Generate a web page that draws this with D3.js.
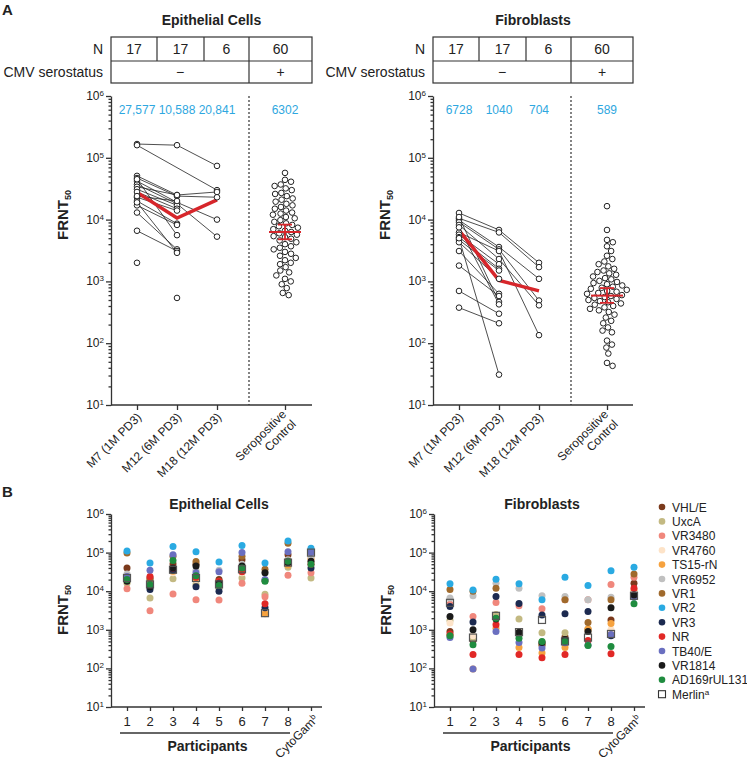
<!DOCTYPE html>
<html>
<head>
<style>
  body { margin: 0; background: #fff; font-family: "Liberation Sans", Arial, sans-serif; }
  text { fill: #222; }
  .axis path, .axis line { stroke: #333; stroke-width: 1.3; }
  .axis text { display: none; }
  .grid line { stroke: #333; stroke-width: 1.2; }
  .gmt { fill: #2ea7e0; font-size: 12px; text-anchor: middle; }
</style>
</head>
<body>
<script src="https://d3js.org/d3.v7.min.js"></script>
<script>
// ---------- panel A data ----------
const timepoints = ["M7 (1M PD3)", "M12 (6M PD3)", "M18 (12M PD3)"];
const controlLabel = ["Seropositive", "Control"];
const nCounts = [17, 17, 6, 60];
const serostatus = ["\u2212", "+"];
const yTicks = [10, 100, 1000, 10000, 100000, 1000000];

// epithelial: one entry per participant, null = no sample
const epiM7  = [167000, 160000, 51000, 47000, 42000, 37000, 34000, 31000, 28000, 23000, 20000, 17000, 13000, 6600, 2000, null, 45000, 19000, 24000];
const epiM12 = [160000, null, 25000, 24000, 19000, 18000, 25000, 17000, 15000, 14000, 8600, 8200, 3300, 3100, null, 540, 5600, 2900, 20000];
const epiM18 = [74000, 30000, 28000, 23000, 10000, 5300, null, null, null, null, null, null, null, null, null, null, null, null, null];
const epiControl = [57000, 44000, 41000, 37000, 35000, 32000, 30000, 27000, 26000, 24000,
  22000, 21000, 19500, 18000, 17000, 16000, 15000, 14000, 13000, 12500,
  12000, 11000, 10500, 9800, 9200, 8700, 8200, 7800, 7400, 7000,
  6600, 6300, 6000, 5700, 5400, 5200, 4900, 4600, 4300, 4000,
  3700, 3500, 3300, 3000, 2800, 2600, 2400, 2200, 2000, 1900,
  1700, 1500, 1400, 1250, 1100, 1000, 900, 780, 650, 600];
const epiGMT = [27577, 10588, 20841];
const epiControlGMT = 6302;
const epiControlCI = [4800, 8300];

// fibroblasts
const fibM7  = [12800, 10500, 9800, 9100, 8200, 6200, 5700, 5200, 4700, 4300, 3100, 1800, 700, 376, 11000, 7500, 5000];
const fibM12 = [6800, 6200, 3600, 3300, 2300, 3100, 1900, 1600, 1500, 1100, 630, 580, 300, 210, 465, 425, 31];
const fibM18 = [2000, 1700, 1100, 490, 410, 135, null, null, null, null, null, null, null, null, null, null, null];
const fibControl = [16500, 6800, 4700, 4300, 3700, 3100, 2600, 2300, 2100, 1900,
  1750, 1600, 1500, 1420, 1350, 1280, 1200, 1130, 1080, 1020,
  980, 940, 900, 860, 820, 790, 760, 730, 700, 680,
  650, 630, 600, 580, 560, 540, 520, 500, 480, 460,
  440, 420, 400, 380, 360, 340, 320, 290, 260, 230,
  210, 180, 160, 150, 110, 95, 85, 68, 48, 43];
const fibGMT = [6728, 1040, 704];
const fibControlGMT = 589;
const fibControlCI = [450, 780];

// ---------- panel B data ----------
const participants = ["1", "2", "3", "4", "5", "6", "7", "8", "CytoGam"];
const strains = ["VHL/E", "UxcA", "VR3480", "VR4760", "TS15-rN", "VR6952", "VR1", "VR2", "VR3", "NR", "TB40/E", "VR1814", "AD169rUL131", "Merlin"];

// epithelial, values for participants 1-8 then CytoGam
const epiVHLE   = [40000, 22000, 51000, 50000, 20000, 65000, 19000, 88000, 90000];
const epiUxcA   = [16000, 6700, 21000, 15000, 12000, 22000, 8300, 42000, 22000];
const epiVR3480 = [11500, 3100, 8500, 6000, 5900, 16000, 7200, 26000, 30000];
const epiVR4760 = [20000, 13000, 30000, 20000, 14000, 30000, 2700, 50000, 60000];
const epiTS15   = [22000, 14000, 33000, 22000, 15000, 35000, 2600, 48000, 70000];
const epiVR6952 = [28000, 13000, 38000, 35000, 35000, 50000, 30000, 65000, 80000];
const epiVR1    = [98000, 20000, 80000, 59000, 18000, 80000, 37000, 175000, 110000];
const epiVR2    = [110000, 54000, 143000, 105000, 57000, 152000, 54000, 200000, 130000];
const epiVR3    = [20000, 11000, 35000, 13000, 10000, 40000, 3700, 55000, 40000];
const epiNR     = [23000, 24000, 40000, 23000, 18000, 32000, 4700, 60000, 50000];
const epiTB40E  = [24000, 35000, 88000, 30000, 32000, 100000, 20000, 105000, 100000];
const epiVR1814 = [18000, 13000, 40000, 45000, 16000, 45000, 30000, 55000, 60000];
const epiAD169  = [20000, 15000, 62000, 25000, 14000, 40000, 18000, 60000, 50000];
const epiMerlin = [22000, 15000, 36000, 22000, 15000, 37000, 2700, 55000, 100000];

// fibroblasts
const fibVHLE   = [900, 530, 2000, 800, 430, 650, 1000, 1800, 16000];
const fibUxcA   = [1750, 600, 2500, 1900, 840, 840, 1050, 840, 7600];
const fibVR3480 = [4600, 2200, 5100, 4200, 3500, 6000, 6000, 15000, 23000];
const fibVR4760 = [1500, 700, 1500, 900, 500, 500, 900, 1000, 9000];
const fibTS15   = [700, 97, 1100, 350, 250, 350, 1050, 1450, 10500];
const fibVR6952 = [6700, 7600, 16000, 12000, 7600, 7300, 6000, 7000, 9000];
const fibVR1    = [11000, 10000, 12000, 800, 400, 6000, 1550, 6000, 28000];
const fibVR2    = [15500, 10700, 20500, 15500, 6000, 23000, 14000, 34000, 42000];
const fibVR3    = [4000, 1600, 7300, 4800, 2400, 2600, 3000, 700, 8000];
const fibNR     = [780, 230, 1350, 230, 190, 230, 530, 240, 12000];
const fibTB40E  = [630, 97, 900, 470, 340, 460, 400, 750, 7000];
const fibVR1814 = [2200, 1000, 1900, 870, 470, 560, 900, 3700, 8000];
const fibAD169  = [700, 410, 2000, 600, 500, 500, 390, 370, 4700];
const fibMerlin = [5000, 630, 2300, 870, 1800, 500, 630, 780, 7600];

const strainColors = ["#7b3a1c", "#c3b982", "#f0877c", "#fde3c8", "#f6a23f", "#c0c0c0", "#a06a2c", "#2aaae2", "#1c2a50", "#e12826", "#6a6fc0", "#1a1a1a", "#1f8c3f", "none"];

const epiRows = [epiVHLE, epiUxcA, epiVR3480, epiVR4760, epiTS15, epiVR6952, epiVR1, epiVR2, epiVR3, epiNR, epiTB40E, epiVR1814, epiAD169, epiMerlin];
const fibRows = [fibVHLE, fibUxcA, fibVR3480, fibVR4760, fibTS15, fibVR6952, fibVR1, fibVR2, fibVR3, fibNR, fibTB40E, fibVR1814, fibAD169, fibMerlin];

// ---------- drawing ----------
const svg = d3.select("body").append("svg").attr("width", 747).attr("height", 763);

const yA = d3.scaleLog().domain([10, 1e6]).range([405, 96]);
const yB = d3.scaleLog().domain([10, 1e6]).range([707, 514]);

function minorTicks() {
  const out = [];
  yTicks.slice(0, -1).forEach(t => { for (let k = 2; k < 10; k++) out.push(t * k); });
  return out;
}

function yAxis(g, x0, y) {
  g.append("g").attr("class", "axis").attr("transform", `translate(${x0},0)`)
    .call(d3.axisLeft(y).tickValues(yTicks).tickSize(5).tickSizeOuter(0).tickFormat(""));
  g.append("g").attr("class", "axis").attr("transform", `translate(${x0},0)`)
    .call(d3.axisLeft(y).tickValues(minorTicks()).tickSize(2.5).tickSizeOuter(0).tickFormat(""))
    .select(".domain").remove();
  yTicks.forEach(t => {
    const txt = g.append("text").attr("x", x0 - 7).attr("y", y(t) + 4)
      .attr("text-anchor", "end").style("font-size", "12px");
    txt.append("tspan").text("10");
    txt.append("tspan").attr("dy", "-0.5em").style("font-size", "8px").text(Math.round(Math.log10(t)));
  });
}

function frntLabel(g, x, y) {
  const t = g.append("text").attr("transform", `translate(${x},${y}) rotate(-90)`)
    .attr("text-anchor", "middle").style("font-size", "15px").style("font-weight", "bold");
  t.append("tspan").text("FRNT");
  t.append("tspan").attr("dy", "0.3em").style("font-size", "9px").text("50");
}

function swarm(values, y, r) {
  const pts = values.map(v => ({ v, y: y(v), dx: 0 })).sort((a, b) => a.y - b.y);
  const d = 2 * r + 0.7, placed = [];
  pts.forEach(p => {
    const near = placed.filter(q => Math.abs(q.y - p.y) < d);
    const cands = [0];
    near.forEach(q => {
      const off = Math.sqrt(d * d - (q.y - p.y) ** 2);
      cands.push(q.dx + off, q.dx - off);
    });
    cands.sort((a, b) => Math.abs(a) - Math.abs(b));
    for (const c of cands) {
      if (near.every(q => (q.dx - c) ** 2 + (q.y - p.y) ** 2 >= d * d - 0.01)) { p.dx = c; break; }
    }
    placed.push(p);
  });
  return pts;
}

function panelA(cfg) {
  const { x0, x1 } = cfg;
  const g = svg.append("g");
  const cats = timepoints.concat(["control"]);
  const x = d3.scaleOrdinal().domain(cats).range([x0 + 26, x0 + 66, x0 + 106, x0 + 174]);
  const divider = x0 + 138;

  g.append("text").attr("x", (x0 + x1) / 2).attr("y", 25).attr("text-anchor", "middle")
    .style("font-size", "14px").style("font-weight", "bold").text(cfg.title);

  // table
  const cols = [x0, x0 + 46, x0 + 93, divider, x1];
  const tb = g.append("g").attr("class", "grid");
  tb.append("rect").attr("x", x0).attr("y", 37).attr("width", x1 - x0).attr("height", 46)
    .attr("fill", "none").attr("stroke", "#333").attr("stroke-width", 1.2);
  tb.append("line").attr("x1", x0).attr("x2", x1).attr("y1", 61).attr("y2", 61);
  [1, 2].forEach(i => tb.append("line").attr("x1", cols[i]).attr("x2", cols[i]).attr("y1", 37).attr("y2", 61));
  tb.append("line").attr("x1", divider).attr("x2", divider).attr("y1", 37).attr("y2", 83);
  nCounts.forEach((n, i) => g.append("text").attr("x", (cols[i] + cols[i + 1]) / 2).attr("y", 54)
    .attr("text-anchor", "middle").style("font-size", "14px").text(n));
  g.append("text").attr("x", (x0 + divider) / 2).attr("y", 77).attr("text-anchor", "middle").style("font-size", "14px").text(serostatus[0]);
  g.append("text").attr("x", (divider + x1) / 2).attr("y", 77).attr("text-anchor", "middle").style("font-size", "14px").text(serostatus[1]);
  g.append("text").attr("x", x0 - 8).attr("y", 54).attr("text-anchor", "end").style("font-size", "14px").text("N");
  g.append("text").attr("x", x0 - 8).attr("y", 77).attr("text-anchor", "end").style("font-size", "14px").text("CMV serostatus");

  // axes
  yAxis(g, x0, yA);
  frntLabel(g, x0 - 43, 215);
  const xa = g.append("g").attr("class", "axis").attr("transform", "translate(0,405)")
    .call(d3.axisBottom(x).tickSize(5).tickFormat(""));
  xa.select(".domain").remove();
  xa.append("line").attr("x1", x0).attr("x2", x1).attr("y1", 0).attr("y2", 0);

  timepoints.forEach(t => {
    g.append("text").attr("transform", `translate(${x(t) + 5},418) rotate(-45)`)
      .attr("text-anchor", "end").style("font-size", "12px").text(t);
  });
  const cl = g.append("text").attr("transform", `translate(${x("control") + 2},415) rotate(-45)`)
    .attr("text-anchor", "end").style("font-size", "12px");
  cl.append("tspan").attr("x", 0).attr("dy", "0em").text(controlLabel[0]);
  cl.append("tspan").attr("x", 0).attr("dy", "1.15em").text(controlLabel[1]);

  g.append("line").attr("x1", divider).attr("x2", divider).attr("y1", 96).attr("y2", 405)
    .attr("stroke", "#333").attr("stroke-width", 1.2).attr("stroke-dasharray", "2,2");

  // GMT numbers
  cfg.gmt.forEach((v, i) => g.append("text").attr("class", "gmt").attr("x", x(timepoints[i])).attr("y", 114).text(d3.format(v >= 10000 ? "," : "d")(v)));
  g.append("text").attr("class", "gmt").attr("x", x("control")).attr("y", 114).text(cfg.controlGMT);

  // participant lines
  const series = cfg.m7.map((v, i) => [cfg.m7[i], cfg.m12[i], cfg.m18[i]]
    .map((val, j) => ({ t: timepoints[j], v: val })).filter(p => p.v != null));
  const line = d3.line().x(p => x(p.t)).y(p => yA(p.v));
  series.forEach(s => {
    if (s.length > 1) g.append("path").attr("d", line(s)).attr("fill", "none").attr("stroke", "#222").attr("stroke-width", 0.8);
  });
  g.append("path").attr("d", line(cfg.gmt.map((v, j) => ({ t: timepoints[j], v }))))
    .attr("fill", "none").attr("stroke", "#d7262b").attr("stroke-width", 3.5);
  series.forEach(s => s.forEach(p => {
    g.append("circle").attr("cx", x(p.t)).attr("cy", yA(p.v)).attr("r", 2.8)
      .attr("fill", "#fff").attr("stroke", "#222").attr("stroke-width", 1);
  }));

  // control beeswarm
  const cx = x("control");
  swarm(cfg.control, yA, 2.8).forEach(p => {
    g.append("circle").attr("cx", cx + p.dx).attr("cy", p.y).attr("r", 2.8)
      .attr("fill", "#fff").attr("stroke", "#222").attr("stroke-width", 1);
  });
  const red = "#d7262b";
  g.append("line").attr("x1", cx - 16).attr("x2", cx + 16).attr("y1", yA(cfg.controlGMT)).attr("y2", yA(cfg.controlGMT)).attr("stroke", red).attr("stroke-width", 2);
  g.append("line").attr("x1", cx).attr("x2", cx).attr("y1", yA(cfg.controlCI[0])).attr("y2", yA(cfg.controlCI[1])).attr("stroke", red).attr("stroke-width", 1.8);
  cfg.controlCI.forEach(c => g.append("line").attr("x1", cx - 7).attr("x2", cx + 7).attr("y1", yA(c)).attr("y2", yA(c)).attr("stroke", red).attr("stroke-width", 1.8));
}

function panelB(cfg) {
  const { x0, x1 } = cfg;
  const g = svg.append("g");
  const x = d3.scalePoint().domain(participants).range([x0 + 16, x0 + 16 + 8 * 23]);

  g.append("text").attr("x", x("5")).attr("y", 509).attr("text-anchor", "middle")
    .style("font-size", "14px").style("font-weight", "bold").text(cfg.title);

  yAxis(g, x0, yB);
  frntLabel(g, x0 - 43, 610);
  const xa = g.append("g").attr("class", "axis").attr("transform", "translate(0,707)")
    .call(d3.axisBottom(x).tickSize(4).tickFormat(""));
  xa.select(".domain").remove();
  xa.append("line").attr("x1", x0).attr("x2", x1).attr("y1", 0).attr("y2", 0);
  participants.slice(0, 8).forEach(p => g.append("text").attr("x", x(p)).attr("y", 726)
    .attr("text-anchor", "middle").style("font-size", "13px").text(p));
  const cg = g.append("text").attr("transform", `translate(${x("CytoGam") + 8},720) rotate(-45)`)
    .attr("text-anchor", "end").style("font-size", "12px");
  cg.append("tspan").text("CytoGam");
  cg.append("tspan").attr("dy", "-0.5em").style("font-size", "8px").text("b");

  g.append("line").attr("x1", x("1") - 7).attr("x2", x("8") + 2).attr("y1", 733).attr("y2", 733)
    .attr("stroke", "#333").attr("stroke-width", 1.3);
  g.append("text").attr("x", (x("1") + x("8")) / 2).attr("y", 751).attr("text-anchor", "middle")
    .style("font-size", "14px").style("font-weight", "bold").text("Participants");

  cfg.rows.forEach((row, si) => {
    row.forEach((v, pi) => {
      const px = x(participants[pi]), py = yB(v);
      if (strains[si] === "Merlin") {
        g.append("rect").attr("x", px - 3.5).attr("y", py - 3.5).attr("width", 7).attr("height", 7)
          .attr("fill", "none").attr("stroke", "#555").attr("stroke-width", 1.2);
      } else {
        g.append("circle").attr("cx", px).attr("cy", py).attr("r", 3.5).attr("fill", strainColors[si]);
      }
    });
  });
}

// panel letters
svg.append("text").attr("x", 2).attr("y", 15).style("font-size", "15px").style("font-weight", "bold").text("A");
svg.append("text").attr("x", 2).attr("y", 497).style("font-size", "15px").style("font-weight", "bold").text("B");

panelA({ x0: 111, x1: 312, title: "Epithelial Cells", m7: epiM7, m12: epiM12, m18: epiM18, control: epiControl, gmt: epiGMT, controlGMT: epiControlGMT, controlCI: epiControlCI });
panelA({ x0: 433, x1: 633, title: "Fibroblasts", m7: fibM7, m12: fibM12, m18: fibM18, control: fibControl, gmt: fibGMT, controlGMT: fibControlGMT, controlCI: fibControlCI });
panelB({ x0: 111, x1: 322, title: "Epithelial Cells", rows: epiRows });
panelB({ x0: 434, x1: 645, title: "Fibroblasts", rows: fibRows });

// legend
const lg = svg.append("g");
strains.forEach((s, i) => {
  const y = 507 + i * 14.4;
  if (s === "Merlin") {
    lg.append("rect").attr("x", 658.5).attr("y", y - 3.5).attr("width", 7).attr("height", 7)
      .attr("fill", "none").attr("stroke", "#333").attr("stroke-width", 1.1);
    const t = lg.append("text").attr("x", 672).attr("y", y + 4.5).style("font-size", "12px");
    t.append("tspan").text("Merlin");
    t.append("tspan").attr("dy", "-0.5em").style("font-size", "8px").text("a");
  } else {
    lg.append("circle").attr("cx", 662).attr("cy", y).attr("r", 3.3).attr("fill", strainColors[i]);
    lg.append("text").attr("x", 672).attr("y", y + 4.5).style("font-size", "12px").text(s);
  }
});
</script>
</body>
</html>
